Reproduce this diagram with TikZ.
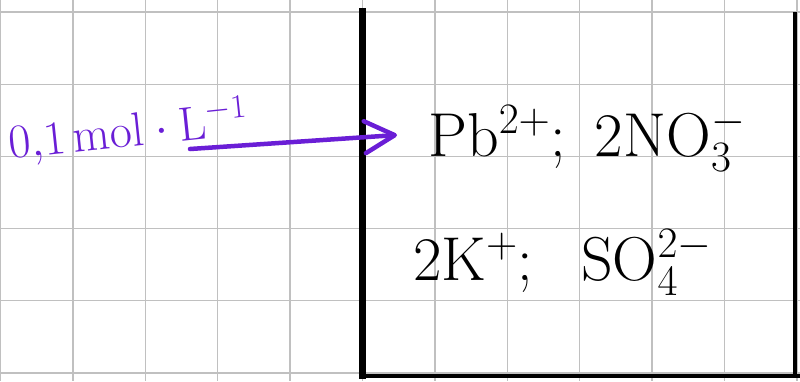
\documentclass[tikz,border=0pt]{standalone}
\usepackage{fix-cm}
\usepackage{amsmath}
\usepackage{tikz}
\usetikzlibrary{arrows.meta, calc}
\usepackage{xcolor}
\definecolor{penpurple}{HTML}{6A1ED6}
\definecolor{gridgray}{HTML}{C0C0C0}

\tikzset{
  gridline/.style={gridgray, line width=1.3pt},
  wall/.style={black, line width=4pt},
  ion/.style={anchor=base west, inner sep=0pt, font=\fontsize{62}{70}\selectfont},
  conclabel/.style={anchor=base west, inner sep=0pt, penpurple, rotate=6,
    font=\fontsize{48}{56}\selectfont},
  feed/.style={penpurple, line width=4.5pt, line cap=round,
    -{Straight Barb[length=30pt, width=32pt, line cap=round, line join=round]}}
}

\begin{document}
\begin{tikzpicture}[x=1pt, y=-1pt]
            \useasboundingbox (0,0) rectangle (800,381);
            \fill[white] (0,0) rectangle (800,381);
            \foreach \i in {0,...,11}
              \draw[gridline] ({0.5+72.4*\i},0) -- ++(0,381);
            \foreach \j in {0,...,5}
              \draw[gridline] (0,{12+72.2*\j}) -- ++(800,0);
            \draw[wall, line width=7pt] (362,8) -- (362,379);
            \draw[wall] (360,375.5) -- (800,375.5);
            \draw[wall] (794.5,12) -- (794.5,377.5);
            \node[conclabel] (conc) at (10,159) {$0{,}1\,\mathrm{mol\cdot L^{-1}}$};
            \node[ion] (pb) at (428,156) {$\mathrm{Pb^{2+}};\ \mathrm{2NO_3^-}$};
            \node[ion] (k) at (413,280) {$\mathrm{2K^+};\ \ \mathrm{SO_4^{2-}}$};
            \coordinate (tail) at (190,149);
            \draw[feed] (tail) -- ([xshift=-31pt, yshift=21pt]pb.base west);
          \end{tikzpicture}
\end{document}
